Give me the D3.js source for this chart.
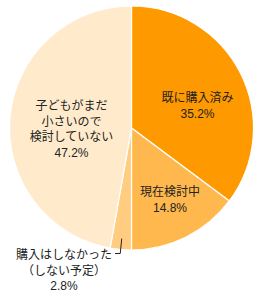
<!DOCTYPE html>
<html><head><meta charset="utf-8">
<script src="https://cdn.jsdelivr.net/npm/d3@7"></script>
<style>html,body{margin:0;padding:0;background:#fff;}svg{display:block;}</style>
</head><body>
<svg id="c" width="260" height="296"></svg>
<script>
const categories = ["既に購入済み", "現在検討中", "購入はしなかった（しない予定）", "子どもがまだ小さいので検討していない"];
const values = [35.2, 14.8, 2.8, 47.2];
const labelLines = [["既に購入済み"], ["現在検討中"], ["購入はしなかった", "（しない予定）"], ["子どもがまだ", "小さいので", "検討していない"]];
const colors = ["#FF9900", "#FFB84D", "#FFCC80", "#FFEBCC"];

const svg = d3.select("#c");
const cx = 131.5, cy = 128, r = 122;
const g = svg.append("g").attr("transform", `translate(${cx},${cy})`);
const pie = d3.pie().sort(null).value(d => d)(values);
const arc = d3.arc().innerRadius(0).outerRadius(r);
g.selectAll("path").data(pie).enter().append("path")
  .attr("d", arc).attr("fill", (d, i) => colors[i])
  .attr("stroke", "#fff").attr("stroke-width", 1.2);

const labelPos = [
  {x: 197.5, y: 102},
  {x: 170, y: 196},
  {x: 64, y: 259},
  {x: 71.5, y: 110}
];
const lh = 15.6;
labelLines.forEach((lines, i) => {
  const all = lines.concat([values[i].toFixed(1) + "%"]);
  all.forEach((s, k) => {
    svg.append("text").attr("text-anchor", "middle")
      .attr("font-family", "'Liberation Sans', 'Noto Sans CJK JP', sans-serif")
      .attr("font-size", 12)
      .attr("fill", "#222")
      .attr("x", labelPos[i].x).attr("y", labelPos[i].y + k * lh).text(s);
  });
});

const inner = d3.arc().innerRadius(r * 0.91).outerRadius(r * 0.91).centroid(pie[2]);
svg.append("path")
  .attr("d", `M${cx + inner[0]},${cy + inner[1]} L${cx + inner[0] - 1.5},${253.5} L${115},${253.5}`)
  .attr("fill", "none").attr("stroke", "#222").attr("stroke-width", 1);
</script>
</body></html>
